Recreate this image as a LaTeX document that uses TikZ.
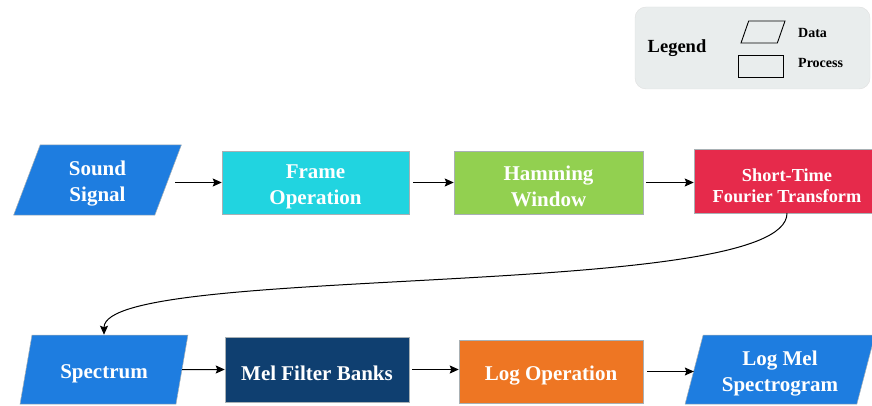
\documentclass[tikz,border=0pt]{standalone}
\usepackage{fontspec}
\setmainfont{Liberation Serif}
\usetikzlibrary{shapes.geometric,arrows.meta}

\definecolor{dataBlue}{HTML}{1E7DE0}
\definecolor{frameCyan}{HTML}{21D4E0}
\definecolor{hamGreen}{HTML}{92D050}
\definecolor{stftRed}{HTML}{E62A4B}
\definecolor{melNavy}{HTML}{0F3F70}
\definecolor{logOrange}{HTML}{EE7623}
\definecolor{legendBg}{HTML}{E9EDED}
\definecolor{edgeGray}{HTML}{A8B0B4}

% taller first line, so that the label sits a little below the box centre
\newcommand{\tallstrut}{\rule{0pt}{22pt}}

\tikzset{
  lbl/.style={text=white, font=\bfseries\fontsize{21}{26}\selectfont, align=center},
  procbox/.style={lbl, rectangle, draw=edgeGray, line width=0.5pt, inner sep=2pt},
  databox/.style={lbl, trapezium, trapezium left angle=76, trapezium right angle=104,
    trapezium stretches=true, draw=edgeGray, line width=0.5pt, fill=dataBlue, inner sep=2pt},
  arr/.style={line width=1pt, -{Stealth[length=9pt,width=8pt,inset=1.5pt]}},
  legshape/.style={draw=black, line width=0.9pt, inner sep=1pt}
}

\begin{document}
\begin{tikzpicture}[x=1pt,y=-1pt]
\useasboundingbox (0,0) rectangle (872,406);

% legend panel
\node[fill=legendBg, draw=gray!25, rounded corners=11pt, minimum width=235pt,
      minimum height=82pt] (legbox) at (752.5,48) {};
\node[font=\bfseries\fontsize{18.5}{20}\selectfont] (legtitle) at (677,48) {Legend};
\node[legshape, trapezium, trapezium left angle=75, trapezium right angle=105,
      trapezium stretches=true, minimum width=44pt, minimum height=22pt] (legdata) at (763,32) {};
\node[legshape, rectangle, minimum width=45pt, minimum height=22pt] (legproc) at (760.5,66) {};
\node[anchor=west, font=\bfseries\fontsize{14}{16}\selectfont, inner sep=0pt] (legdatatxt) at (798,33) {Data};
\node[anchor=west, font=\bfseries\fontsize{14}{16}\selectfont, inner sep=0pt] (legproctxt) at (798,63) {Process};

% top row
\node[databox, minimum width=169pt, minimum height=70pt] (snd) at (97.5,180) {\tallstrut Sound\\Signal};
\node[procbox, fill=frameCyan, minimum width=187pt, minimum height=63pt] (frame) at (315.5,182.5) {\tallstrut Frame\\Operation};
\node[procbox, fill=hamGreen, minimum width=189pt, minimum height=63pt] (ham) at (548.5,182.5) {\tallstrut Hamming\\Window};
\node[procbox, fill=stftRed, minimum width=186pt, minimum height=64pt,
      font=\bfseries\fontsize{18.3}{21.5}\selectfont] (stft) at (787,181) {\tallstrut Short-Time\\Fourier Transform};

% bottom row
\node[databox, minimum width=168pt, minimum height=69pt] (spec) at (104,369.5) {\tallstrut Spectrum};
\node[procbox, fill=melNavy, minimum width=184pt, minimum height=65pt] (mel) at (317,369.5) {\tallstrut Mel Filter Banks};
\node[procbox, fill=logOrange, minimum width=184pt, minimum height=63pt] (logop) at (551,371.5) {\tallstrut Log Operation};
\node[databox, minimum width=190pt, minimum height=69pt] (lms) at (780,369.5) {\tallstrut Log Mel\\Spectrogram};

% connectors
\draw[arr, shorten <=7pt] (snd.east |- frame.west) -- (frame.west);
\draw[arr, shorten <=4pt] (frame.east) -- (ham.west);
\draw[arr, shorten <=3pt] (ham.east) -- (ham.east -| stft.west);
\draw[arr] (stft.south) .. controls +(0,88) and +(0,-72) .. (spec.north);
\draw[arr] (spec.east) -- (mel.west);
\draw[arr, shorten <=3pt] (mel.east) -- (mel.east -| logop.west);
\draw[arr, shorten <=4pt] (logop.east) -- (logop.east -| lms.west);
\end{tikzpicture}
\end{document}
